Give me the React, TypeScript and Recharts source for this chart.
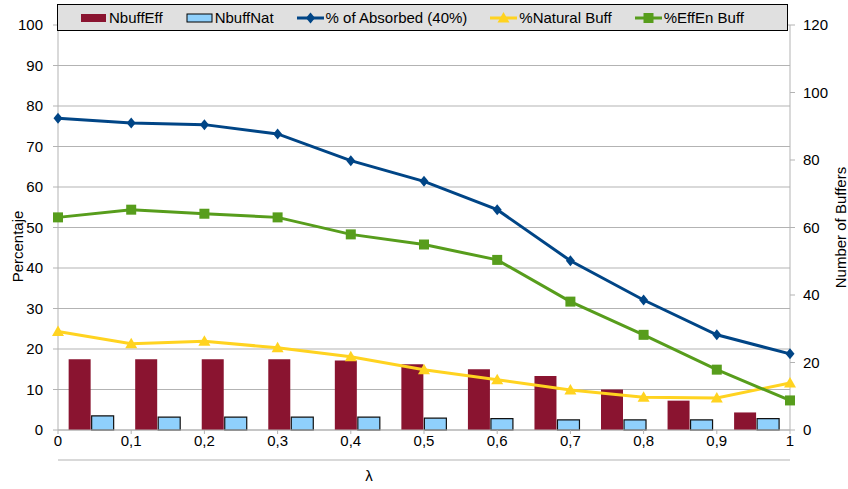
import { ComposedChart, Bar, Line, XAxis, YAxis, CartesianGrid, Legend } from 'recharts';

const lambdaValues = [0, 0.1, 0.2, 0.3, 0.4, 0.5, 0.6, 0.7, 0.8, 0.9, 1];
const nbuffEff = [21, 21, 21, 21, 20.6, 19.5, 18, 16, 12, 8.7, 5.2];
const nbuffNat = [4.2, 3.8, 3.8, 3.8, 3.8, 3.5, 3.4, 3.0, 3.0, 3.0, 3.4];
const absorbed = [77.0, 75.8, 75.4, 73.1, 66.5, 61.4, 54.4, 41.8, 32.1, 23.5, 18.8];
const naturalBuff = [24.3, 21.3, 21.9, 20.3, 18.1, 14.9, 12.4, 9.9, 8.1, 7.9, 11.6];
const effEnBuff = [52.5, 54.4, 53.4, 52.5, 48.3, 45.8, 42.0, 31.7, 23.5, 14.9, 7.3];

const percentTicks = [0, 10, 20, 30, 40, 50, 60, 70, 80, 90, 100];
const bufferTicks = [0, 20, 40, 60, 80, 100, 120];

const data = lambdaValues.map((lambda, i) => ({
  lambda,
  nbuffEff: nbuffEff[i],
  nbuffNat: nbuffNat[i],
  absorbed: absorbed[i],
  naturalBuff: naturalBuff[i],
  effEnBuff: effEnBuff[i],
}));

const FONT = '"Liberation Sans", Arial, sans-serif';
const AXIS_GRAY = '#b3b3b3';
const C_EFF = '#8a1430';
const C_NAT = '#8fd0fc';
const C_ABS = '#004586';
const C_YEL = '#ffd320';
const C_GRN = '#579d1c';

// x axis ids: 0 = numeric λ scale for the lines, 1 = band scale for the bars
const LINE_X = 0;
const BAR_X = 1;

type Marker = 'diamond' | 'triangle' | 'square';

function markerPath(kind: Marker, cx: number, cy: number) {
  if (kind === 'diamond') return `M${cx},${cy - 5.5}L${cx + 4.5},${cy}L${cx},${cy + 5.5}L${cx - 4.5},${cy}Z`;
  if (kind === 'triangle') return `M${cx},${cy - 6}L${cx + 6},${cy + 4.5}L${cx - 6},${cy + 4.5}Z`;
  return `M${cx - 5},${cy - 5}h10v10h-10Z`;
}

const makeDot = (kind: Marker, color: string) => (props: any) => {
  const { cx, cy, index } = props;
  if (cx == null || cy == null) return <g key={`m-${index}`} />;
  return <path key={`m-${kind}-${index}`} d={markerPath(kind, cx, cy)} fill={color} />;
};

const legendItems = [
  { name: 'NbuffEff', kind: 'bar', color: C_EFF, stroke: 'none' },
  { name: 'NbuffNat', kind: 'bar', color: C_NAT, stroke: '#000' },
  { name: '% of Absorbed (40%)', kind: 'diamond', color: C_ABS },
  { name: '%Natural Buff', kind: 'triangle', color: C_YEL },
  { name: '%EffEn Buff', kind: 'square', color: C_GRN },
];

function LegendBox() {
  return (
    <div
      style={{
        width: 707,
        height: 25,
        background: '#e0e0e0',
        border: '1px solid #000',
        display: 'flex',
        alignItems: 'center',
        paddingLeft: 22,
        boxSizing: 'content-box',
        fontSize: 15,
        fontFamily: FONT,
        color: '#000',
      }}
    >
      {legendItems.map((item) => (
        <div key={item.name} style={{ display: 'flex', alignItems: 'center', marginRight: 23 }}>
          <svg width={27} height={14} style={{ marginRight: 2 }}>
            {item.kind === 'bar' ? (
              <rect x={1} y={3} width={25} height={8} fill={item.color} stroke={item.stroke} strokeWidth={1} />
            ) : (
              <>
                <line x1={0} y1={7} x2={27} y2={7} stroke={item.color} strokeWidth={3} />
                <path d={markerPath(item.kind as Marker, 13.5, 7)} fill={item.color} />
              </>
            )}
          </svg>
          <span>{item.name}</span>
        </div>
      ))}
    </div>
  );
}

export default function App() {
  return (
    <div style={{ position: 'absolute', left: 0, top: 0, width: 848, height: 489, background: '#fff', fontFamily: FONT }}>
      <ComposedChart
        width={848}
        height={489}
        data={data}
        margin={{ top: 25, right: 0, bottom: 0, left: 0 }}
        barCategoryGap="16%"
        barGap={1}
        style={{ fontFamily: FONT }}
      >
        <CartesianGrid yAxisId="left" xAxisId={LINE_X} vertical={false} stroke={AXIS_GRAY} strokeWidth={1} />
        <XAxis
          xAxisId={LINE_X}
          dataKey="lambda"
          type="number"
          domain={[0, 1]}
          ticks={lambdaValues}
          interval={0}
          tickFormatter={(v: number) => String(v).replace('.', ',')}
          height={30}
          tickSize={4}
          tickMargin={1}
          stroke={AXIS_GRAY}
          tick={{ fill: '#000', fontSize: 15 }}
        />
        <XAxis
          xAxisId={BAR_X}
          dataKey="lambda"
          type="category"
          height={29}
          tick={false}
          tickLine={false}
          stroke={AXIS_GRAY}
          label={{ value: 'λ', position: 'center', dx: -55, dy: 1, fill: '#000', fontSize: 15 }}
        />
        <YAxis
          yAxisId="left"
          domain={[0, 100]}
          ticks={percentTicks}
          interval={0}
          width={58}
          tickSize={5}
          tickMargin={10}
          stroke={AXIS_GRAY}
          tick={{ fill: '#000', fontSize: 15 }}
          label={{ value: 'Percentaje', angle: -90, position: 'center', dx: -11, dy: 19, fill: '#000', fontSize: 15 }}
        />
        <YAxis
          yAxisId="right"
          orientation="right"
          domain={[0, 120]}
          ticks={bufferTicks}
          interval={0}
          width={58}
          tickSize={5}
          tickMargin={8}
          stroke={AXIS_GRAY}
          tick={{ fill: '#000', fontSize: 15 }}
          label={{ value: 'Number of Buffers', angle: -90, position: 'center', dx: 22, dy: 0, fill: '#000', fontSize: 15 }}
        />
        <Legend
          verticalAlign="middle"
          align="center"
          wrapperStyle={{ position: 'absolute', top: 4, left: 57, width: 730, height: 27 }}
          content={() => <LegendBox />}
        />
        <Bar xAxisId={BAR_X} yAxisId="right" dataKey="nbuffEff" name="NbuffEff" fill={C_EFF} isAnimationActive={false} />
        <Bar
          xAxisId={BAR_X}
          yAxisId="right"
          dataKey="nbuffNat"
          name="NbuffNat"
          fill={C_NAT}
          stroke="#111"
          strokeWidth={1.2}
          isAnimationActive={false}
        />
        <Line
          xAxisId={LINE_X}
          yAxisId="left"
          dataKey="absorbed"
          name="% of Absorbed (40%)"
          stroke={C_ABS}
          strokeWidth={3}
          dot={makeDot('diamond', C_ABS)}
          activeDot={false}
          isAnimationActive={false}
        />
        <Line
          xAxisId={LINE_X}
          yAxisId="left"
          dataKey="naturalBuff"
          name="%Natural Buff"
          stroke={C_YEL}
          strokeWidth={3}
          dot={makeDot('triangle', C_YEL)}
          activeDot={false}
          isAnimationActive={false}
        />
        <Line
          xAxisId={LINE_X}
          yAxisId="left"
          dataKey="effEnBuff"
          name="%EffEn Buff"
          stroke={C_GRN}
          strokeWidth={3}
          dot={makeDot('square', C_GRN)}
          activeDot={false}
          isAnimationActive={false}
        />
      </ComposedChart>
    </div>
  );
}
